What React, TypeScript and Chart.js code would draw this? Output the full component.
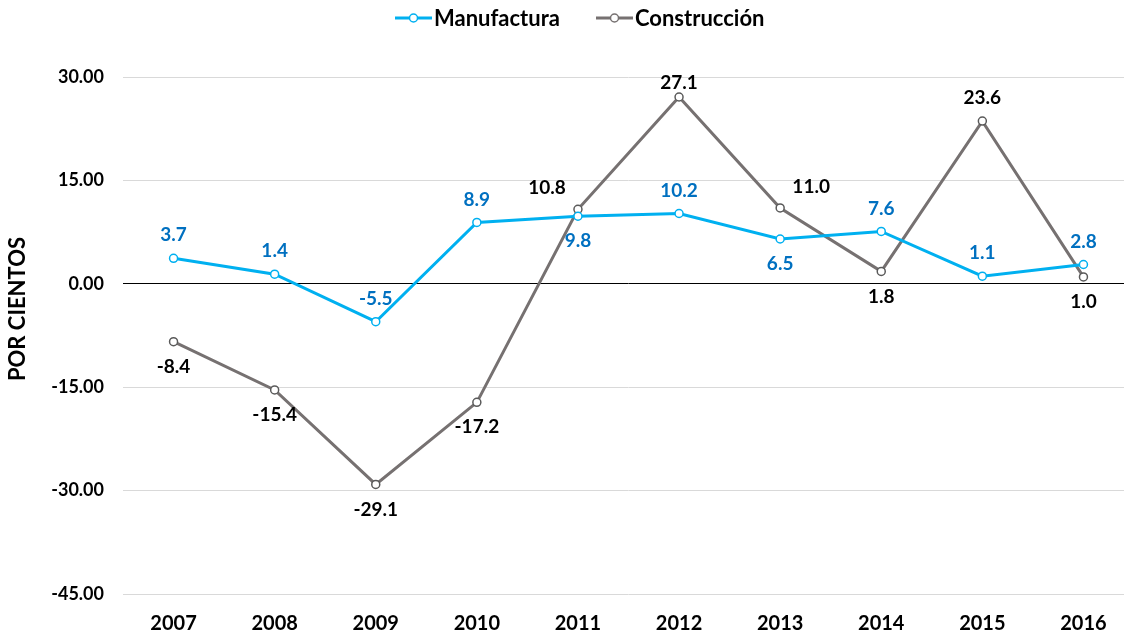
import React, { useEffect, useRef } from "react";
import { Chart, registerables } from "chart.js";

Chart.register(...registerables);

const years = ["2007", "2008", "2009", "2010", "2011", "2012", "2013", "2014", "2015", "2016"];
const manufactura = [3.7, 1.4, -5.5, 8.9, 9.8, 10.2, 6.5, 7.6, 1.1, 2.8];
const construccion = [-8.4, -15.4, -29.1, -17.2, 10.8, 27.1, 11.0, 1.8, 23.6, 1.0];
const manufacturaLabelPos = ["above", "above", "above", "above", "below", "above", "below", "above", "above", "above"];
const construccionLabelPos = ["below", "below", "below", "below", "left", "above", "right", "below", "above", "below"];
const yTicks = [30, 15, 0, -15, -30, -45];

const FONT = "Lato, 'Open Sans', sans-serif";
const W = "bold";
const BLUE_LINE = "#00B0F0";
const BLUE_TEXT = "#0070C0";
const GRAY_LINE = "#767171";

const CANVAS_W = 1150;
const CANVAS_H = 636;

const labelPlugin = {
  id: "valueLabels",
  afterDatasetsDraw(chart: any) {
    const ctx = chart.ctx;
    const area = chart.chartArea;
    ctx.save();
    ctx.font = `${W} 19px ${FONT}`;
    ctx.textAlign = "center";
    ctx.textBaseline = "middle";
    chart.data.datasets.forEach((ds: any, di: number) => {
      const meta = chart.getDatasetMeta(di);
      const positions = ds._labelPos as string[];
      ctx.fillStyle = ds._labelColor;
      meta.data.forEach((pt: any, i: number) => {
        const v = ds.data[i] as number;
        const pos = positions[i];
        let x = pt.x;
        let y = pt.y;
        if (pos === "above") y -= 23;
        else if (pos === "below") y += 25;
        else if (pos === "left") { x -= 31; y -= 21; }
        else if (pos === "right") { x += 31; y -= 21; }
        y = Math.max(y, area.top + 6);
        ctx.fillText(v.toFixed(1), x, y);
      });
    });
    ctx.restore();
  },
};

const decorPlugin = {
  id: "decor",
  afterDraw(chart: any) {
    const ctx = chart.ctx;
    ctx.save();
    ctx.translate(18, 309);
    ctx.rotate(-Math.PI / 2);
    ctx.font = `${W} 22px ${FONT}`;
    ctx.fillStyle = "#000";
    ctx.textAlign = "center";
    ctx.textBaseline = "middle";
    ctx.fillText("POR CIENTOS", 0, 0);
    ctx.restore();

    const items = [
      { label: "Manufactura", color: BLUE_LINE, x0: 395, x1: 432 },
      { label: "Construcción", color: GRAY_LINE, x0: 596, x1: 633 },
    ];
    ctx.save();
    ctx.font = `${W} 22px ${FONT}`;
    ctx.textBaseline = "middle";
    ctx.textAlign = "left";
    const ly = 18;
    items.forEach((it) => {
      ctx.strokeStyle = it.color;
      ctx.lineWidth = 3;
      ctx.beginPath();
      ctx.moveTo(it.x0, ly);
      ctx.lineTo(it.x1, ly);
      ctx.stroke();
      ctx.beginPath();
      ctx.arc((it.x0 + it.x1) / 2, ly, 4, 0, Math.PI * 2);
      ctx.fillStyle = "#fff";
      ctx.fill();
      ctx.lineWidth = 1.5;
      ctx.stroke();
      ctx.fillStyle = "#000";
      ctx.fillText(it.label, it.x1 + 2, ly + 1);
    });
    ctx.restore();
  },
};

export default function App() {
  const ref = useRef<HTMLCanvasElement | null>(null);

  useEffect(() => {
    if (!ref.current) return;
    const chart = new Chart(ref.current, {
      type: "line",
      data: {
        labels: years,
        datasets: [
          {
            label: "Manufactura",
            data: manufactura,
            borderColor: BLUE_LINE,
            backgroundColor: "#fff",
            borderWidth: 3,
            pointRadius: 4,
            pointBorderWidth: 1.5,
            pointBackgroundColor: "#fff",
            pointBorderColor: BLUE_LINE,
            tension: 0,
            _labelPos: manufacturaLabelPos,
            _labelColor: BLUE_TEXT,
          } as any,
          {
            label: "Construcción",
            data: construccion,
            borderColor: GRAY_LINE,
            backgroundColor: "#fff",
            borderWidth: 3,
            pointRadius: 4,
            pointBorderWidth: 1.5,
            pointBackgroundColor: "#fff",
            pointBorderColor: "#5a5a5a",
            tension: 0,
            _labelPos: construccionLabelPos,
            _labelColor: "#000",
          } as any,
        ],
      },
      options: {
        responsive: false,
        animation: false,
        layout: { padding: { top: 77, left: 0, right: CANVAS_W - 1134, bottom: 0 } },
        plugins: {
          legend: { display: false },
          tooltip: { enabled: false },
          title: { display: false },
        },
        scales: {
          x: {
            type: "category",
            offset: true,
            grid: { display: false, drawTicks: false },
            border: { display: false },
            ticks: {
              color: "#000",
              font: { family: FONT, size: 20, weight: W },
              padding: 18,
            },
            afterFit: (s: any) => { s.height = CANVAS_H - 594; },
          },
          y: {
            min: -45,
            max: 30,
            afterBuildTicks: (s: any) => { s.ticks = yTicks.map((v) => ({ value: v })); },
            grid: {
              drawTicks: false,
              color: (c: any) => (c.tick && c.tick.value === 0 ? "#000" : "#d9d9d9"),
              lineWidth: 1,
            },
            border: { display: false },
            ticks: {
              color: "#000",
              font: { family: FONT, size: 18, weight: W },
              padding: 19,
              callback: (v: any) => Number(v).toFixed(2),
            },
            afterFit: (s: any) => { s.width = 123; },
          },
        },
      },
      plugins: [labelPlugin, decorPlugin],
    } as any);
    return () => chart.destroy();
  }, []);

  return (
    <div style={{ position: "fixed", left: 0, top: 0, width: 1124, height: 636, overflow: "hidden", background: "#fff" }}>
      <canvas ref={ref} width={CANVAS_W} height={CANVAS_H} style={{ display: "block" }} />
    </div>
  );
}
